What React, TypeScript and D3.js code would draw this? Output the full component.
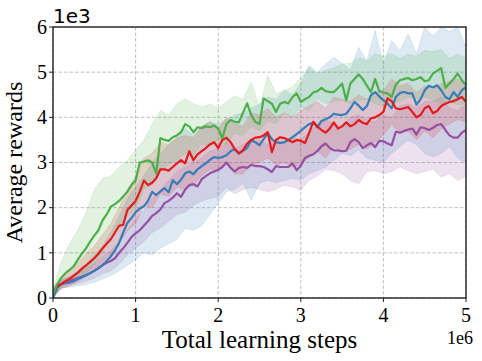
import React from 'react';
import * as d3 from 'd3';

// x positions (in 1e6 steps)
const meanSteps = d3.range(0, 101).map(i => i * 0.05);
const bandSteps = d3.range(0, 51).map(i => i * 0.1);

// mean curves (in 1e3), sampled every 0.05e6
const greenMean = [0.08, 0.3, 0.45, 0.55, 0.62, 0.7, 0.85, 0.98, 1.1, 1.25, 1.38, 1.5, 1.72, 1.85, 2.02, 2.08, 2.15, 2.25, 2.35, 2.5,
  2.6, 3.0, 3.02, 3.05, 3.0, 2.76, 3.54, 3.5, 3.48, 3.56, 3.6, 3.67, 3.85, 3.8, 3.67, 3.78, 3.76, 3.8, 3.78, 3.82,
  3.75, 3.54, 3.85, 3.94, 3.9, 3.89, 4.1, 4.31, 4.05, 3.9, 3.85, 4.42, 4.36, 4.3, 4.12, 4.3, 4.34, 4.31, 4.45, 4.53,
  4.34, 4.4, 4.45, 4.55, 4.58, 4.65, 4.58, 4.56, 4.56, 4.65, 4.75, 4.38, 4.75, 4.85, 4.95, 4.85, 4.7, 4.56, 4.85, 4.58,
  4.55, 4.53, 4.45, 4.72, 4.82, 4.85, 4.87, 4.82, 4.85, 4.89, 4.8, 4.82, 4.97, 5.03, 5.09, 4.65, 4.75, 4.85, 4.97, 4.82, 4.71];

const redMean = [0.12, 0.26, 0.31, 0.37, 0.42, 0.49, 0.56, 0.65, 0.72, 0.8, 0.88, 0.98, 1.1, 1.2, 1.3, 1.45, 1.6, 1.62, 1.95, 2.05,
  2.15, 2.35, 2.6, 2.5, 2.55, 2.65, 2.85, 2.85, 2.82, 2.9, 2.98, 3.05, 2.98, 3.25, 3.05, 3.18, 3.25, 3.32, 3.4, 3.45,
  3.32, 3.5, 3.55, 3.45, 3.3, 3.2, 3.27, 3.42, 3.5, 3.55, 3.56, 3.6, 3.67, 3.23, 3.5, 3.56, 3.54, 3.5, 3.45, 3.5,
  3.48, 3.43, 3.65, 3.9, 3.8, 3.72, 3.66, 3.75, 3.89, 3.75, 3.8, 3.89, 3.8, 3.85, 3.94, 3.88, 3.85, 3.98, 4.0, 4.05,
  4.12, 4.42, 4.36, 4.2, 4.18, 4.2, 4.23, 4.12, 4.0, 4.05, 4.2, 4.25, 4.09, 4.14, 4.25, 4.3, 4.34, 4.36, 4.4, 4.45, 4.34];

const blueMean = [0.0, 0.22, 0.31, 0.33, 0.34, 0.37, 0.42, 0.46, 0.5, 0.55, 0.6, 0.66, 0.73, 0.82, 0.92, 1.05, 1.22, 1.45, 1.66, 1.77,
  1.9, 1.98, 2.03, 2.15, 2.35, 2.28, 2.36, 2.43, 2.34, 2.61, 2.52, 2.62, 2.76, 2.8, 2.74, 2.85, 2.92, 2.98, 3.06, 3.12,
  3.1, 3.12, 3.16, 3.25, 3.3, 3.2, 3.26, 3.32, 3.5, 3.45, 3.38, 3.52, 3.65, 3.52, 3.45, 3.43, 3.45, 3.5, 3.56, 3.63,
  3.7, 3.78, 3.85, 3.88, 3.78, 3.92, 3.96, 4.0, 4.08, 4.06, 4.05, 4.08, 4.2, 4.34, 4.26, 4.16, 4.25, 4.49, 4.56, 4.46,
  4.38, 4.3, 4.2, 4.45, 4.54, 4.56, 4.53, 4.53, 4.28, 4.4, 4.6, 4.7, 4.66, 4.71, 4.6, 4.45, 4.4, 4.56, 4.45, 4.6, 4.67];

const purpleMean = [0.1, 0.25, 0.31, 0.34, 0.37, 0.41, 0.44, 0.47, 0.51, 0.55, 0.6, 0.66, 0.73, 0.78, 0.82, 0.88, 1.0, 1.1, 1.22, 1.35,
  1.43, 1.5, 1.6, 1.7, 1.82, 1.88, 1.96, 2.1, 2.15, 2.22, 2.32, 2.24, 2.4, 2.5, 2.52, 2.47, 2.63, 2.7, 2.76, 2.8,
  2.84, 2.9, 3.0, 2.88, 2.8, 2.88, 2.9, 2.88, 2.95, 2.92, 2.92, 2.9, 2.85, 2.79, 2.92, 2.9, 2.9, 2.9, 2.98, 2.83,
  2.93, 3.1, 3.15, 3.18, 3.25, 3.36, 3.42, 3.32, 3.27, 3.27, 3.25, 3.26, 3.45, 3.52, 3.45, 3.32, 3.38, 3.43, 3.34, 3.48,
  3.47, 3.42, 3.38, 3.68, 3.66, 3.7, 3.73, 3.75, 3.62, 3.78, 3.76, 3.72, 3.77, 3.83, 3.85, 3.72, 3.6, 3.55, 3.55, 3.66, 3.72];

// shaded bands (in 1e3), sampled every 0.1e6
const greenUpper = [0.2, 0.8, 1.2, 1.5, 1.9, 2.4, 2.65, 2.7, 2.9, 3.05, 3.27, 3.5, 3.86, 4.15, 4.05, 4.3, 4.41, 4.3, 4.23, 4.3,
  4.2, 4.35, 4.48, 4.4, 4.78, 4.23, 4.93, 4.52, 4.6, 4.67, 4.89, 5.11, 4.96, 5.04, 5.1, 5.18, 5.2, 5.33, 5.25, 5.41,
  5.35, 5.41, 5.3, 5.4, 5.35, 5.48, 5.45, 5.5, 5.3, 5.4, 5.3];
const greenLower = [0.0, 0.25, 0.35, 0.45, 0.55, 0.75, 1.0, 1.4, 1.6, 1.8, 2.0, 2.4, 2.5, 2.8, 2.95, 3.05, 3.2, 3.15, 3.42, 3.35,
  3.5, 3.4, 3.64, 3.6, 3.79, 3.7, 3.93, 3.85, 4.08, 4.0, 4.23, 4.15, 4.41, 4.3, 4.35, 4.37, 4.3, 4.37, 4.4, 4.3,
  4.25, 4.3, 4.35, 4.45, 4.4, 4.45, 4.38, 4.3, 4.35, 4.28, 4.3];

const blueUpper = [0.1, 0.4, 0.48, 0.6, 0.75, 0.95, 1.15, 1.45, 1.8, 2.2, 2.45, 2.7, 3.0, 3.2, 3.4, 3.55, 3.75, 3.6, 3.8, 3.9,
  3.85, 3.95, 4.05, 4.1, 4.2, 4.3, 4.45, 4.4, 4.6, 4.5, 4.75, 5.15, 5.0, 5.18, 5.33, 5.2, 5.04, 5.55, 5.26, 5.92,
  5.18, 5.7, 5.48, 5.85, 5.4, 6.0, 5.8, 6.0, 5.9, 6.0, 5.55];
const blueLower = [0.0, 0.22, 0.24, 0.27, 0.3, 0.35, 0.42, 0.5, 0.6, 0.72, 0.85, 1.0, 0.95, 1.1, 1.2, 1.3, 1.55, 1.5, 1.6, 1.85,
  2.1, 2.35, 2.4, 2.54, 2.17, 2.54, 2.6, 2.55, 2.6, 2.65, 2.6, 2.75, 2.82, 2.9, 3.05, 3.2, 3.15, 3.27, 3.1, 3.05,
  3.0, 3.2, 3.35, 3.5, 3.4, 3.2, 3.12, 3.2, 3.35, 3.1, 2.97];

const redUpper = [0.25, 0.45, 0.6, 0.78, 0.98, 1.15, 1.4, 1.65, 2.0, 2.4, 2.7, 3.1, 3.2, 3.45, 3.4, 3.55, 3.6, 3.55, 3.8, 3.9,
  3.75, 4.0, 3.85, 3.8, 4.1, 4.05, 4.2, 4.0, 4.1, 4.0, 4.15, 4.25, 4.35, 4.2, 4.45, 4.4, 4.35, 4.5, 4.4, 4.55,
  4.6, 4.85, 4.7, 4.75, 4.55, 4.7, 4.6, 4.75, 4.8, 4.85, 4.75];
const redLower = [0.05, 0.2, 0.28, 0.36, 0.48, 0.62, 0.8, 0.95, 1.2, 1.5, 1.65, 2.05, 2.0, 2.3, 2.25, 2.45, 2.4, 2.5, 2.7, 2.85,
  2.8, 3.0, 2.75, 2.75, 2.95, 3.0, 3.1, 2.95, 3.0, 2.9, 2.95, 3.1, 3.25, 3.1, 3.35, 3.25, 3.3, 3.4, 3.3, 3.45,
  3.6, 3.85, 3.65, 3.7, 3.5, 3.7, 3.55, 3.75, 3.85, 3.95, 3.9];

const purpleUpper = [0.2, 0.4, 0.47, 0.56, 0.65, 0.76, 0.92, 1.05, 1.25, 1.5, 1.75, 1.95, 2.2, 2.4, 2.6, 2.8, 2.9, 3.0, 3.1, 3.25,
  3.3, 3.45, 3.3, 3.4, 3.45, 3.5, 3.4, 3.5, 3.45, 3.55, 3.5, 3.7, 3.8, 3.95, 3.85, 3.8, 4.0, 4.05, 3.95, 3.9,
  4.05, 4.0, 4.25, 4.3, 4.2, 4.35, 4.35, 4.45, 4.2, 4.15, 4.3];
const purpleLower = [0.0, 0.22, 0.27, 0.32, 0.37, 0.44, 0.54, 0.6, 0.75, 0.95, 1.1, 1.25, 1.45, 1.55, 1.7, 1.85, 1.9, 2.05, 2.15, 2.2,
  2.25, 2.45, 2.3, 2.4, 2.45, 2.4, 2.35, 2.4, 2.5, 2.45, 2.39, 2.6, 2.7, 2.85, 2.82, 2.75, 2.6, 2.53, 2.8, 2.82,
  2.75, 2.8, 2.9, 2.82, 2.75, 2.8, 2.85, 2.68, 2.75, 2.6, 2.7];

const xTicks = [0, 1, 2, 3, 4, 5];
const yTicks = [0, 1, 2, 3, 4, 5, 6];

const series = [
  { name: 'purple', color: '#984ea3', mean: purpleMean, lo: purpleLower, hi: purpleUpper },
  { name: 'blue', color: '#377eb8', mean: blueMean, lo: blueLower, hi: blueUpper },
  { name: 'red', color: '#e41a1c', mean: redMean, lo: redLower, hi: redUpper },
  { name: 'green', color: '#4daf4a', mean: greenMean, lo: greenLower, hi: greenUpper },
];

const width = 482;
const height = 361;
const margin = { top: 27, right: 16, bottom: 63, left: 53 };
const innerW = width - margin.left - margin.right;
const innerH = height - margin.top - margin.bottom;
const serif = '"Liberation Serif", "Times New Roman", serif';

export default function App() {
  const x = d3.scaleLinear().domain([0, 5]).range([0, innerW]);
  const y = d3.scaleLinear().domain([0, 6]).range([innerH, 0]);

  const line = d3.line<number>()
    .x((d, i) => x(meanSteps[i]))
    .y(d => y(d));

  const area = (lo: number[], hi: number[]) =>
    d3.area<number>()
      .x((d, i) => x(bandSteps[i]))
      .y0((d, i) => y(lo[i]))
      .y1((d, i) => y(hi[i]))(lo);

  return (
    <svg width={width} height={height} style={{ position: 'absolute', left: 0, top: 0, background: '#fff' }}>
      <defs>
        <clipPath id="plot">
          <rect x={0} y={0} width={innerW} height={innerH} />
        </clipPath>
      </defs>
      <g transform={`translate(${margin.left},${margin.top})`}>
        {/* grid */}
        {xTicks.map(t => (
          <line key={'gx' + t} x1={x(t)} x2={x(t)} y1={0} y2={innerH}
            stroke="#b0b0b0" strokeWidth={0.8} strokeDasharray="3.5,2" />
        ))}
        {yTicks.map(t => (
          <line key={'gy' + t} x1={0} x2={innerW} y1={y(t)} y2={y(t)}
            stroke="#b0b0b0" strokeWidth={0.8} strokeDasharray="3.5,2" />
        ))}

        <g clipPath="url(#plot)">
          {series.map(s => (
            <path key={'a' + s.name} d={area(s.lo, s.hi) || ''} fill={s.color} fillOpacity={0.17}
              stroke={s.color} strokeOpacity={0.22} strokeWidth={0.6} />
          ))}
          {series.map(s => (
            <path key={'l' + s.name} d={line(s.mean) || ''} fill="none" stroke={s.color}
              strokeWidth={2.2} strokeLinejoin="round" />
          ))}
        </g>

        {/* frame */}
        <rect x={0} y={0} width={innerW} height={innerH} fill="none" stroke="#222" strokeWidth={1.4} />

        {/* ticks */}
        {xTicks.map(t => (
          <g key={'tx' + t}>
            <line x1={x(t)} x2={x(t)} y1={innerH} y2={innerH + 4} stroke="#222" strokeWidth={1} />
            <text x={x(t)} y={innerH + 24} textAnchor="middle" fontFamily={serif} fontSize={20} fill="#000">{t}</text>
          </g>
        ))}
        {yTicks.map(t => (
          <g key={'ty' + t}>
            <line x1={-4} x2={0} y1={y(t)} y2={y(t)} stroke="#222" strokeWidth={1} />
            <text x={-6} y={y(t)} dy="0.34em" textAnchor="end" fontFamily={serif} fontSize={20} fill="#000">{t}</text>
          </g>
        ))}

        {/* offset labels */}
        <text x={0} y={-4} fontFamily='"DejaVu Sans", sans-serif' fontSize={20} fill="#000">1e3</text>
        <text x={innerW + 7} y={innerH + 46} textAnchor="end" fontFamily={serif} fontSize={18} fill="#000">1e6</text>

        {/* axis titles */}
        <text x={innerW / 2} y={innerH + 50} textAnchor="middle" fontFamily={serif} fontSize={25} fill="#000">
          Total learning steps
        </text>
        <text transform={`translate(${22 - margin.left},${innerH / 2}) rotate(-90)`} textAnchor="middle"
          fontFamily={serif} fontSize={24} fill="#000">
          Average rewards
        </text>
      </g>
    </svg>
  );
}
